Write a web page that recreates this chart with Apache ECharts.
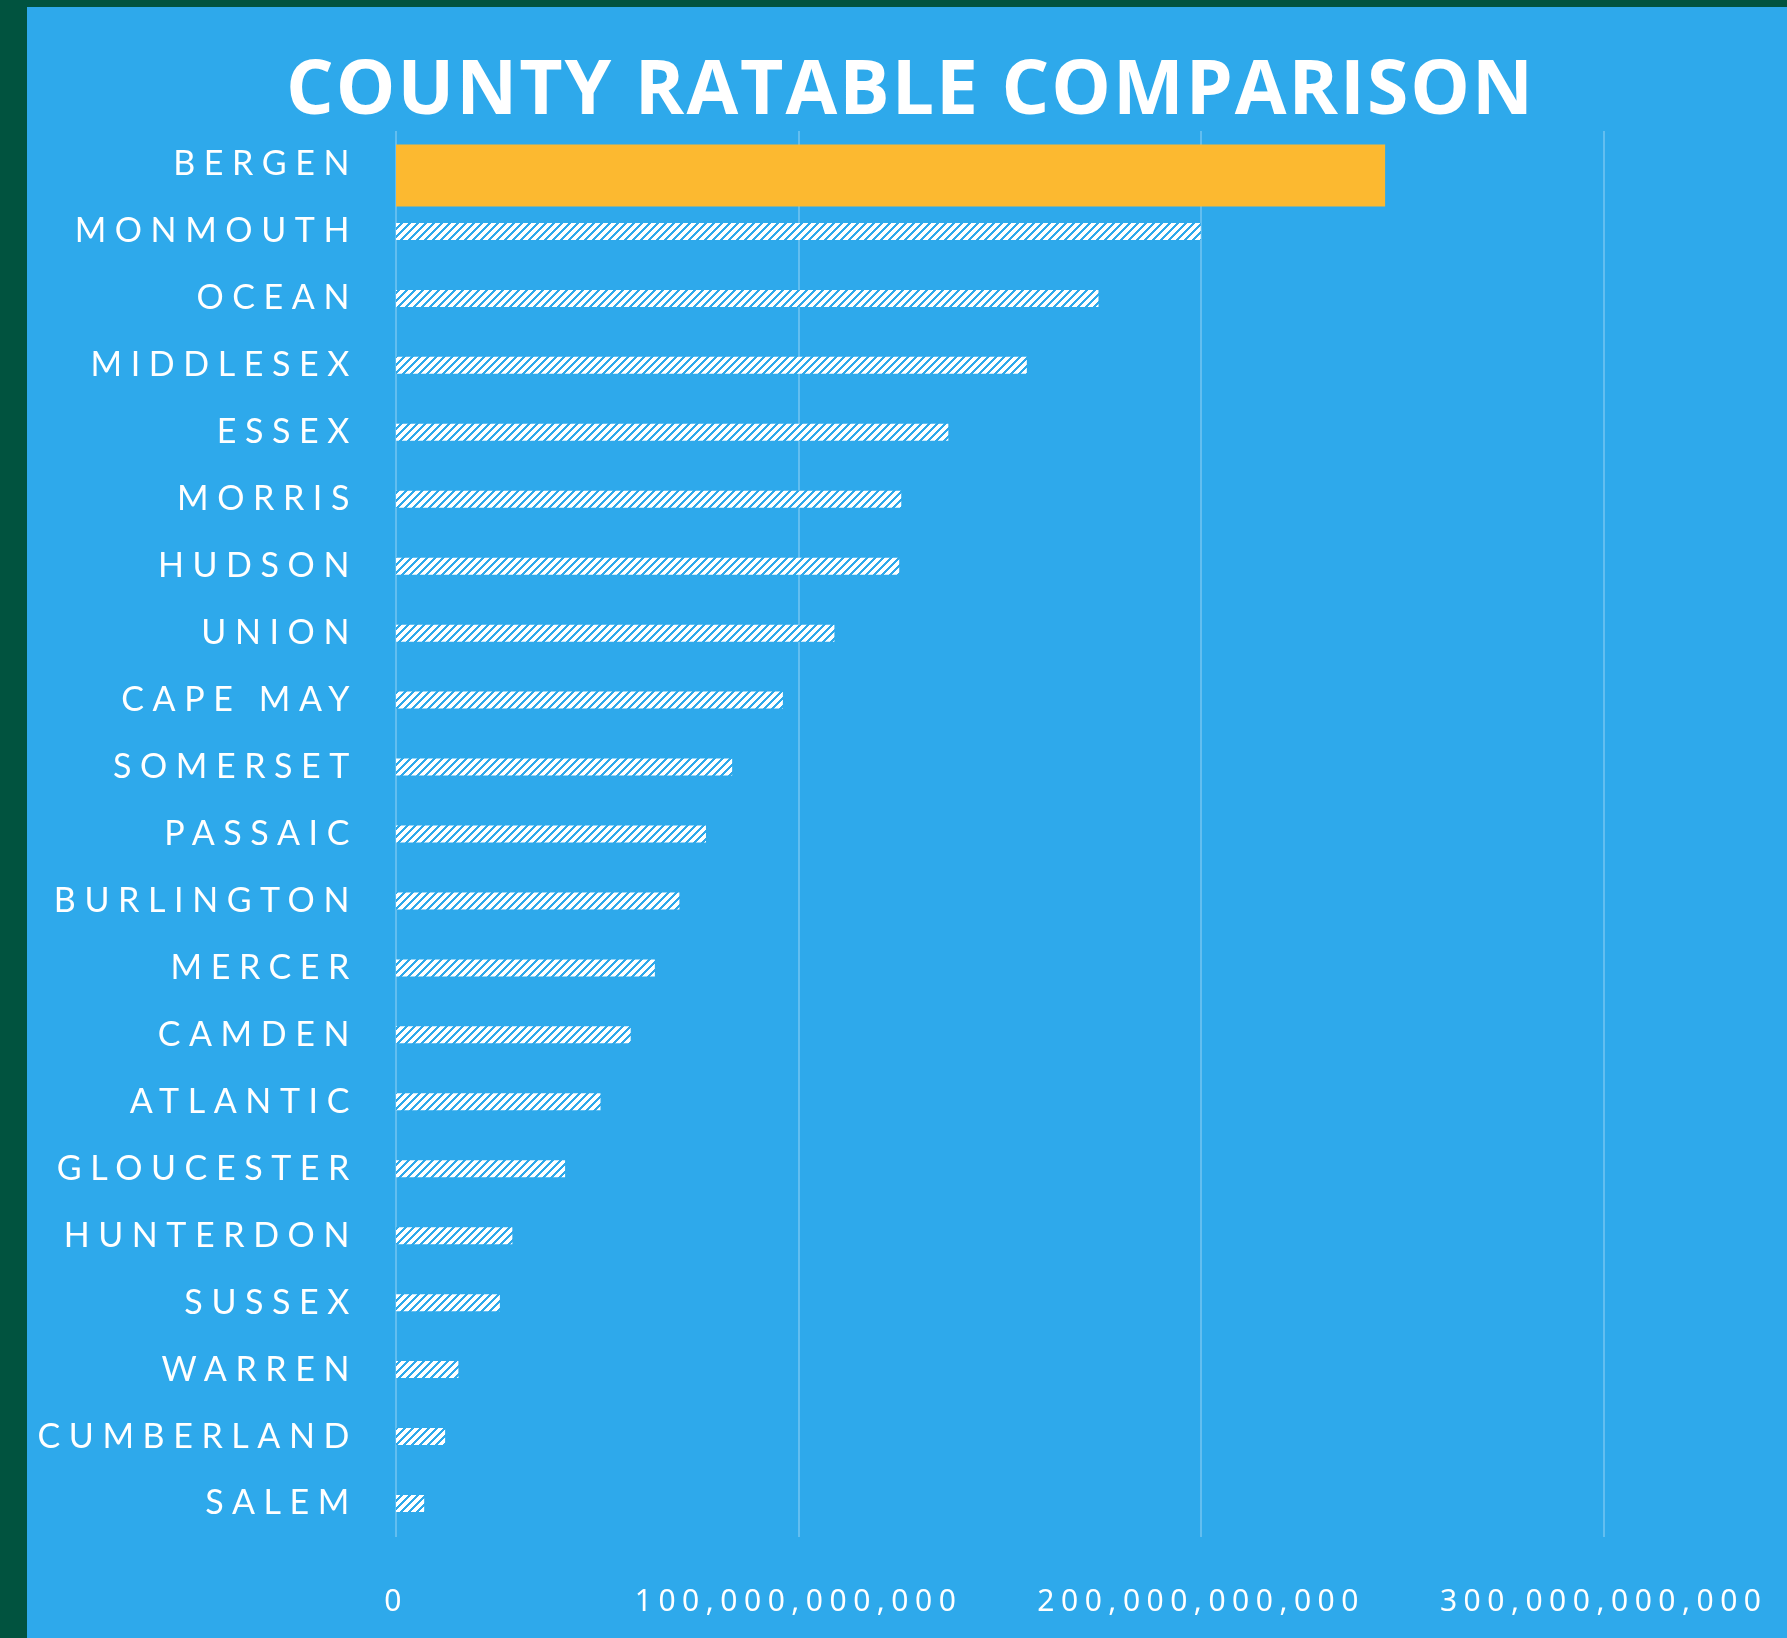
<!DOCTYPE html>
<html>
<head>
<meta charset="utf-8">
<script src="https://cdn.jsdelivr.net/npm/echarts@6/dist/echarts.min.js"></script>
<style>
  html, body { margin: 0; padding: 0; width: 1787px; height: 1638px; background: #01533F; overflow: hidden; position: relative; }
  #chart { position: absolute; left: 27px; top: 7px; width: 1778px; height: 1631px; background: #2EA9EB; }
</style>
</head>
<body>
<div id="chart"></div>
<script>
// ---- data ----
const counties = ['BERGEN','MONMOUTH','OCEAN','MIDDLESEX','ESSEX','MORRIS','HUDSON','UNION','CAPE MAY','SOMERSET','PASSAIC','BURLINGTON','MERCER','CAMDEN','ATLANTIC','GLOUCESTER','HUNTERDON','SUSSEX','WARREN','CUMBERLAND','SALEM'];
const ratables = [245.7e9, 199.9e9, 174.5e9, 156.7e9, 137.2e9, 125.5e9, 125.0e9, 108.9e9, 96.1e9, 83.5e9, 77.0e9, 70.4e9, 64.3e9, 58.3e9, 50.8e9, 42.0e9, 28.9e9, 25.8e9, 15.5e9, 12.2e9, 7.0e9];
const highlighted = 'BERGEN';
const xTicks = [0, 100e9, 200e9, 300e9];
const titleText = 'COUNTY RATABLE COMPARISON';

// ---- letter spacing for canvas text (by font family) ----
(function () {
  const P = CanvasRenderingContext2D.prototype;
  if (!('letterSpacing' in P)) return;
  const orig = P.fillText;
  P.fillText = function (t, x, y, w) {
    const f = this.font || '';
    let ls = null;
    if (f.indexOf('Lato') >= 0) ls = '8.6px';
    else if (f.indexOf('Noto Sans') >= 0) ls = '6.5px';
    else if (f.indexOf('Open Sans') >= 0) ls = '2px';
    if (ls) {
      const prev = this.letterSpacing;
      this.letterSpacing = ls;
      if (w === undefined) orig.call(this, t, x, y); else orig.call(this, t, x, y, w);
      this.letterSpacing = prev;
    } else {
      if (w === undefined) orig.call(this, t, x, y); else orig.call(this, t, x, y, w);
    }
  };
})();

// ---- hatch pattern ----
function makeHatch() {
  const n = 8;
  const c = document.createElement('canvas');
  c.width = n; c.height = n;
  const ctx = c.getContext('2d');
  const img = ctx.createImageData(n, n);
  for (let y = 0; y < n; y++) {
    for (let x = 0; x < n; x++) {
      const i = (y * n + x) * 4;
      const white = ((x + y) % n) < 5;
      img.data[i] = white ? 255 : 46;
      img.data[i + 1] = white ? 255 : 169;
      img.data[i + 2] = white ? 255 : 235;
      img.data[i + 3] = 255;
    }
  }
  ctx.putImageData(img, 0, 0);
  return c;
}

const hatchedData = counties.map((c, i) => c === highlighted ? '-' : ratables[i]);
const highlightData = counties.map((c, i) => c === highlighted ? ratables[i] : '-');

function fmt(v) {
  return String(Math.round(v)).replace(/\B(?=(\d{3})+(?!\d))/g, ',');
}

const chart = echarts.init(document.getElementById('chart'), null, { renderer: 'canvas' });
chart.setOption({
  animation: false,
  backgroundColor: '#2EA9EB',
  title: {
    text: titleText,
    left: 254,
    top: 43,
    textStyle: { color: '#FFFFFF', fontFamily: 'Open Sans', fontWeight: 'bold', fontSize: 75 }
  },
  grid: { left: 369, right: 0, top: 124, bottom: 101, containLabel: false },
  xAxis: {
    type: 'value',
    min: xTicks[0],
    max: 350e9,
    interval: xTicks[1] - xTicks[0],
    axisLine: { show: false },
    axisTick: { show: false },
    splitLine: { show: true, lineStyle: { color: '#62BEF0', width: 2 } },
    axisLabel: {
      show: true,
      showMaxLabel: false,
      color: '#FFFFFF',
      fontFamily: 'Noto Sans',
      fontSize: 30,
      margin: 50,
      formatter: fmt
    }
  },
  yAxis: {
    type: 'category',
    inverse: true,
    data: counties,
    axisLine: { show: false },
    axisTick: { show: false },
    splitLine: { show: false },
    axisLabel: { color: '#FFFFFF', fontFamily: 'Lato', fontSize: 34, margin: 38 }
  },
  series: [
    {
      type: 'bar',
      data: hatchedData,
      barWidth: 17,
      itemStyle: { color: { image: makeHatch(), repeat: 'repeat' } },
      z: 3
    },
    {
      type: 'pictorialBar',
      data: highlightData,
      symbol: 'rect',
      symbolRepeat: false,
      symbolPosition: 'start',
      symbolSize: ['100%', 62],
      symbolOffset: [0, 11],
      itemStyle: { color: '#FCB930' },
      z: 4
    }
  ]
});
</script>
</body>
</html>
